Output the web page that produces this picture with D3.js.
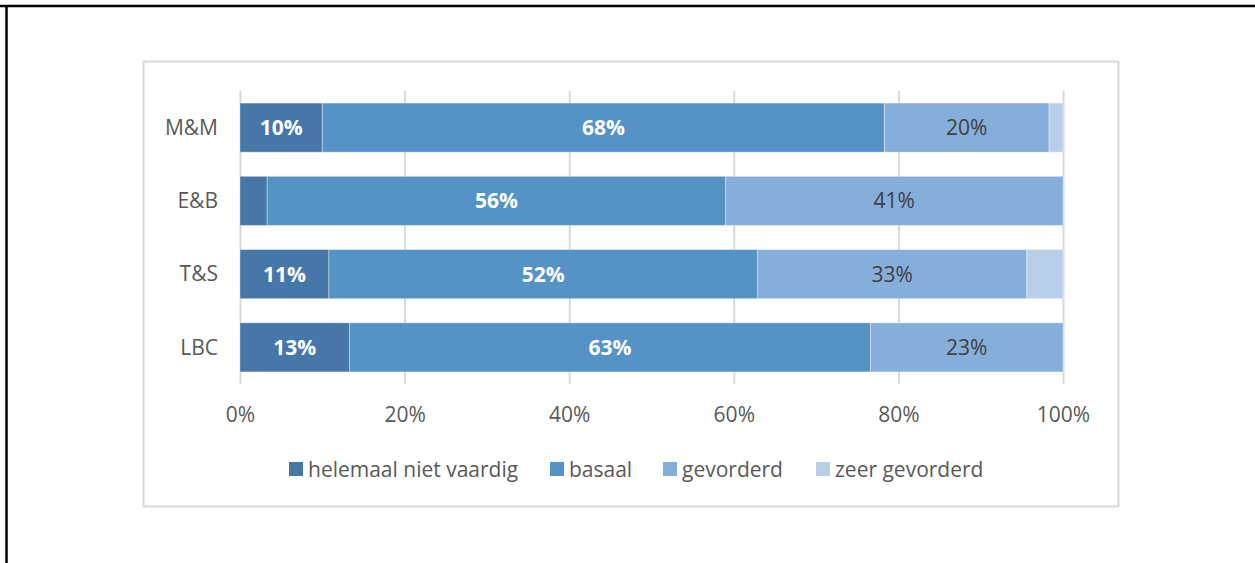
<!DOCTYPE html>
<html>
<head>
<meta charset="utf-8">
<script src="https://cdn.jsdelivr.net/npm/d3@7"></script>
<style>
  html, body { margin: 0; padding: 0; background: #fff; }
  svg { display: block; }
</style>
</head>
<body>
<svg id="chart" width="1255" height="563"></svg>
<script>
// Proficiency levels per group (share of respondents, %)
const categories = ["M&M", "E&B", "T&S", "LBC"];
const levels = ["helemaal niet vaardig", "basaal", "gevorderd", "zeer gevorderd"];
const helemaalNietVaardig = [10.0, 3.3, 10.8, 13.3];
const basaal = [68.3, 55.7, 52.1, 63.3];
const gevorderd = [20.0, 41.0, 32.7, 23.4];
const zeerGevorderd = [1.7, 0.0, 4.4, 0.0];
const tickLabels = ["0%", "20%", "40%", "60%", "80%", "100%"];
const tickValues = [0, 20, 40, 60, 80, 100];

const colors = ["#4677a8", "#5592c6", "#85aedb", "#b9cfe9"];
const labelColors = ["#ffffff", "#ffffff", "#404040", "#404040"];
const labelWeights = ["bold", "bold", "normal", "normal"];
const minLabelShare = 8; // segments narrower than this get no label

const seriesValues = [helemaalNietVaardig, basaal, gevorderd, zeerGevorderd];
const rows = categories.map((c, i) => {
  const r = { category: c };
  levels.forEach((l, k) => { r[l] = seriesValues[k][i]; });
  return r;
});
const stacked = d3.stack().keys(levels)(rows);

const svg = d3.select("#chart");
const font = "'Open Sans', sans-serif";
const fontSize = 21;

// page frame (black) and chart frame (light gray)
svg.append("line").attr("x1", 0).attr("x2", 1255).attr("y1", 6).attr("y2", 6)
  .attr("stroke", "#000").attr("stroke-width", 2.5);
svg.append("line").attr("x1", 6.5).attr("x2", 6.5).attr("y1", 5).attr("y2", 563)
  .attr("stroke", "#000").attr("stroke-width", 2.5);
svg.append("rect").attr("x", 143.5).attr("y", 61.5).attr("width", 975).attr("height", 445)
  .attr("fill", "#fff").attr("stroke", "#d9d9d9").attr("stroke-width", 2);

const x = d3.scaleLinear().domain([0, 100]).range([240, 1063]);
const y = d3.scaleBand().domain(categories).range([91, 384]).paddingInner(0.33).paddingOuter(0.165);

// vertical gridlines
svg.append("g").selectAll("line").data(tickValues).join("line")
  .attr("x1", d => x(d) + 0.5).attr("x2", d => x(d) + 0.5)
  .attr("y1", 91).attr("y2", 384)
  .attr("stroke", "#d9d9d9").attr("stroke-width", 2);

// x axis labels
const xAxis = d3.axisBottom(x).tickValues(tickValues)
  .tickFormat((d, i) => tickLabels[i]).tickSize(0).tickPadding(0);
const gx = svg.append("g").attr("transform", "translate(0,384)").call(xAxis);
gx.select(".domain").remove();
gx.selectAll("text").attr("y", 38).attr("dy", 0)
  .attr("font-family", font).attr("font-size", fontSize).attr("fill", "#595959");

// y axis labels
const yAxis = d3.axisLeft(y).tickSize(0).tickPadding(0);
const gy = svg.append("g").attr("transform", "translate(218,0)").call(yAxis);
gy.select(".domain").remove();
gy.selectAll("text").attr("dy", "0.35em")
  .attr("font-family", font).attr("font-size", fontSize).attr("fill", "#595959");

// stacked bars
const layers = svg.append("g").selectAll("g").data(stacked).join("g")
  .attr("fill", (d, i) => colors[i]);
layers.selectAll("rect").data(d => d).join("rect")
  .attr("x", d => x(d[0]))
  .attr("y", d => y(d.data.category))
  .attr("width", d => Math.max(0, x(d[1]) - x(d[0])))
  .attr("height", y.bandwidth())
  .attr("stroke", "rgba(255,255,255,0.35)").attr("stroke-width", 1);

// value labels
layers.each(function (layer, li) {
  d3.select(this).selectAll("text").data(layer.filter(d => (d[1] - d[0]) >= minLabelShare)).join("text")
    .attr("x", d => (x(d[0]) + x(d[1])) / 2)
    .attr("y", d => y(d.data.category) + y.bandwidth() / 2)
    .attr("dy", "0.36em")
    .attr("text-anchor", "middle")
    .attr("font-family", font).attr("font-size", fontSize)
    .attr("font-weight", labelWeights[li])
    .attr("fill", labelColors[li])
    .text(d => Math.round(d[1] - d[0]) + "%");
});

// legend
const legendX = [289, 550, 663, 816];
const legend = svg.append("g").selectAll("g").data(levels).join("g")
  .attr("transform", (d, i) => `translate(${legendX[i]},462)`);
legend.append("rect").attr("width", 14).attr("height", 14)
  .attr("fill", (d, i) => colors[i]);
legend.append("text").attr("x", 19).attr("y", 7).attr("dy", "0.36em")
  .attr("font-family", font).attr("font-size", fontSize).attr("fill", "#595959")
  .text(d => d);
</script>
</body>
</html>
